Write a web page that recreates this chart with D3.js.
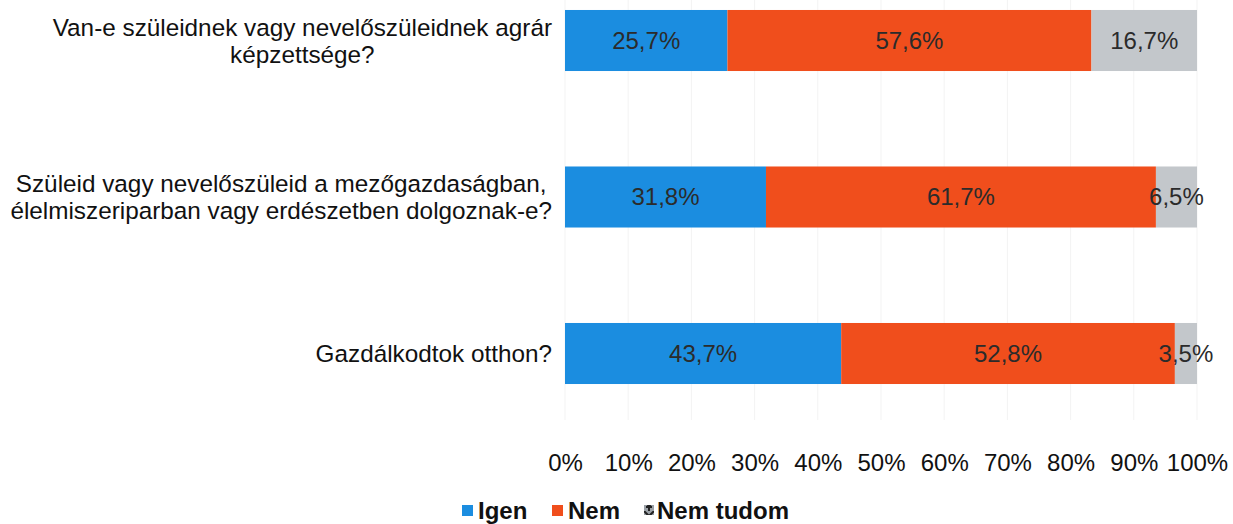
<!DOCTYPE html>
<html><head><meta charset="utf-8">
<script src="https://cdn.jsdelivr.net/npm/d3@7"></script>
<style>body{margin:0;background:#fff;} svg{display:block;font-family:"Liberation Sans",Arial,sans-serif;}</style>
</head><body>
<svg id="c" width="1233" height="524"></svg>
<script>
const categories = [
  ["Van-e szüleidnek vagy nevelőszüleidnek agrár", "képzettsége?"],
  ["Szüleid vagy nevelőszüleid a mezőgazdaságban,", "élelmiszeriparban vagy erdészetben dolgoznak-e?"],
  ["Gazdálkodtok otthon?"]
];
const seriesNames = ["Igen", "Nem", "Nem tudom"];
const igen = [25.7, 31.8, 43.7];
const nem = [57.6, 61.7, 52.8];
const nemTudom = [16.7, 6.5, 3.5];
const tickValues = [0,10,20,30,40,50,60,70,80,90,100];
const colors = ["#1b8de0", "#f04e1c", "#c3c7cb"];

const svg = d3.select("#c");
const defs = svg.append("defs");
const pat = defs.append("pattern").attr("id","nt").attr("patternUnits","userSpaceOnUse")
  .attr("width",10).attr("height",10);
pat.append("rect").attr("width",10).attr("height",10).attr("fill","#9aa0a6");
pat.append("path").attr("d","M0,0L5,5L10,0M5,5V10M2,6H8").attr("stroke","#222").attr("stroke-width",2).attr("fill","none");

const x = d3.scaleLinear().domain([0,100]).range([565,1197]);
const ids = categories.map((c,i)=>i);
const y = d3.scaleBand().domain(ids).range([-37.75, 431.75]).paddingInner(0.61).paddingOuter(0.305);

// gridlines
svg.append("g").selectAll("line").data(tickValues).join("line")
  .attr("x1", d=>x(d)).attr("x2", d=>x(d)).attr("y1", 0).attr("y2", 420)
  .attr("stroke", "#f3f3f3").attr("stroke-width", 1);

const series = [igen, nem, nemTudom];
const rows = ids.map(i => {
  let acc = 0;
  return series.map((s,k)=>{ const r = {i, k, x0: acc, x1: acc + s[i], v: s[i]}; acc += s[i]; return r; });
});
const segs = rows.flat();
svg.append("g").selectAll("rect").data(segs).join("rect")
  .attr("x", d=>x(d.x0)).attr("width", d=>x(d.x1)-x(d.x0))
  .attr("y", d=>y(d.i)).attr("height", y.bandwidth())
  .attr("fill", d=>colors[d.k]);
svg.append("g").selectAll("text").data(segs).join("text")
  .attr("x", d=>(x(d.x0)+x(d.x1))/2).attr("y", d=>y(d.i)+y.bandwidth()/2)
  .attr("dy", "0.35em").attr("text-anchor", "middle")
  .attr("font-size", 24).attr("fill", "#2b2b2b")
  .text(d=>d.v.toFixed(1).replace(".", ",") + "%");

// category labels
const lab = svg.append("g").selectAll("text").data(ids).join("text")
  .attr("font-size", 24.3).attr("fill", "#111");
lab.each(function(i){
  const t = d3.select(this);
  const lines = categories[i];
  const n = lines.length;
  const cy = y(i) + y.bandwidth()/2;
  lines.forEach((ln, j) => {
    t.append("tspan").attr("x", 0).attr("y", cy + (j - (n-1)/2)*27).attr("dy","0.35em").text(ln);
  });
});
lab.each(function(){
  const t = d3.select(this);
  const bb = this.getBBox();
  const center = 552 - bb.width/2;
  t.attr("text-anchor","middle").selectAll("tspan").attr("x", center);
});

// x axis
const ax = svg.append("g").attr("transform","translate(0,463)")
  .call(d3.axisBottom(x).tickValues(tickValues).tickFormat(d=>d+"%").tickSize(0).tickPadding(0));
ax.select(".domain").remove();
ax.selectAll("text").attr("font-size", 24).attr("fill","#111").attr("dy","0.35em")
  .attr("font-family", "Liberation Sans, Arial, sans-serif");

// legend
const legendX = [462, 552, 644];
const lg = svg.append("g").selectAll("g").data(seriesNames).join("g")
  .attr("transform", (d,k)=>`translate(${legendX[k]},511)`);
lg.append("rect").attr("x",0).attr("y",-6).attr("width",(d,k)=>k===2?10:11).attr("height",(d,k)=>k===2?10:11)
  .attr("fill",(d,k)=>k===2?"url(#nt)":colors[k]);
lg.append("text").attr("x",(d,k)=>k===2?13:16).attr("dy","0.35em").attr("font-size",24).attr("font-weight","bold")
  .attr("fill","#111").text(d=>d);
</script>
</body></html>
